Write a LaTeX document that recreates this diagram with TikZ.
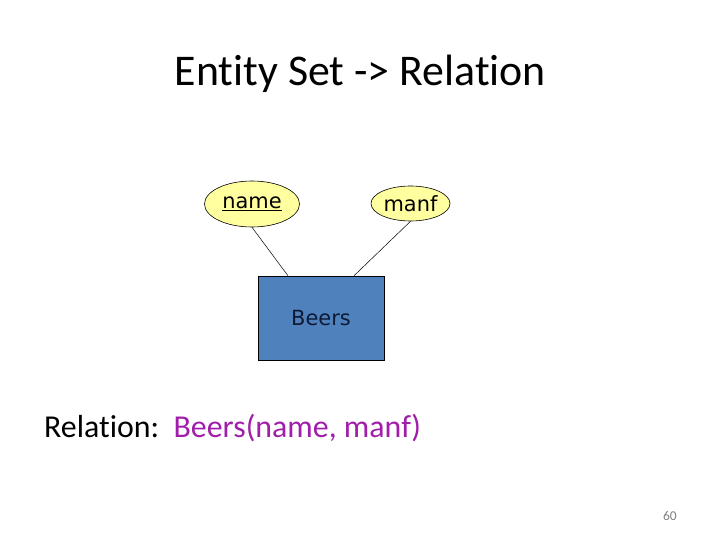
\documentclass[tikz,border=0pt]{standalone}
\usepackage{fontspec}
\setmainfont{Carlito}[Ligatures=NoCommon]
\newfontfamily\ersans{DejaVu Sans}
\usetikzlibrary{shapes.geometric}
\definecolor{attrfill}{RGB}{255,255,160}
\definecolor{entfill}{RGB}{79,129,189}
\definecolor{enttext}{RGB}{14,26,52}
\definecolor{relpurple}{RGB}{160,30,170}
\tikzset{
    attr/.style={ellipse,draw,fill=attrfill,inner sep=0pt,line width=0.6bp,font=\ersans\fontsize{21}{25}\selectfont},
    entity/.style={rectangle,draw,fill=entfill,inner sep=0pt,line width=0.6bp,text=enttext,font=\ersans\fontsize{21}{25}\selectfont}
}
\begin{document}
\begin{tikzpicture}[x=1bp,y=-1bp]
                \useasboundingbox (0,0) rectangle (720,540);
                \node[anchor=base] (title) at (360.5,85.5) {\fontsize{44}{53}\selectfont Entity Set -> Relation};
                \node[attr,minimum width=95bp,minimum height=46bp] (name) at (252,204) {\underline{name}};
                \node[attr,minimum width=79bp,minimum height=35bp] (manf) at (410.5,203.5) {manf};
                \node[entity,minimum width=126bp,minimum height=84bp] (beers) at (321,318) {Beers};
                \draw[line width=0.5bp] (name.south) -- (beers.128);
                \draw[line width=0.5bp] (manf.south) -- (beers.52);
                \node[anchor=base west,inner sep=0pt] (rel) at (44,437) {\fontsize{32}{38}\selectfont Relation:\ \ \textcolor{relpurple}{Beers(name, manf)}};
                \node[anchor=base east,inner sep=0pt,text=gray] (page) at (677,520) {\fontsize{13.5}{16}\selectfont 60};
            \end{tikzpicture}
\end{document}
